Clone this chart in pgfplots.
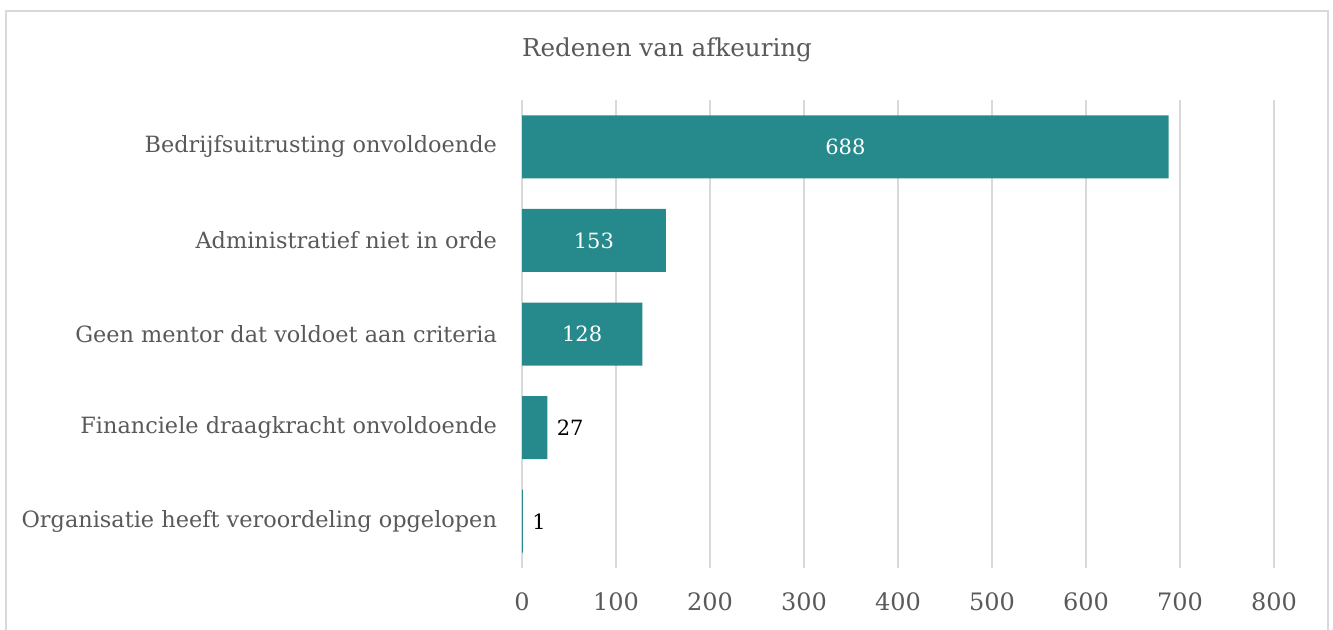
\documentclass[border=0pt]{standalone}
\usepackage{pgfplots}
\pgfplotsset{compat=1.18}
\usepackage{fontspec}
\setmainfont{DejaVu Serif}
\definecolor{barc}{HTML}{268A8C}
\definecolor{txt}{HTML}{595959}
\definecolor{gridc}{HTML}{D9D9D9}
\begin{document}
\begin{tikzpicture}
\useasboundingbox (0,0) rectangle (666.5pt,-315pt);
\draw[gridc, line width=1pt] (3pt,-315pt) -- (3pt,-5.5pt) -- (664pt,-5.5pt) -- (664pt,-315pt);
\node[txt, font=\fontsize{12.3}{14}\selectfont] at (333.5pt,-25pt) {Redenen van afkeuring};
\begin{axis}[
  at={(261pt,-284pt)}, anchor=south west,
  scale only axis, width=376pt, height=234pt,
  xbar, bar width=31.5pt,
  xmin=0, xmax=800, ymin=-0.5, ymax=4.5, y dir=reverse,
  xtick={0,100,...,800}, ytick={0,1,2,3,4},
  yticklabels={Bedrijfsuitrusting onvoldoende,Administratief niet in orde,Geen mentor dat voldoet aan criteria,Financiele draagkracht onvoldoende,Organisatie heeft veroordeling opgelopen},
  xmajorgrids, major grid style={gridc, line width=1pt},
  axis line style={draw=none}, major tick length=0pt,
  yticklabel style={txt, font=\fontsize{11.2}{13}\selectfont, xshift=-9pt},
  xticklabel style={txt, font=\fontsize{12}{14}\selectfont, yshift=-9pt},
  /pgf/number format/assume math mode=true,
  clip=false,
]
\addplot[fill=barc, draw=none, bar shift=0pt,
  visualization depends on={rawx \as \rawx},
  nodes near coords,
  every node near coord/.append style={anchor=center, xshift={-0.235pt*\rawx}, text=white, font=\fontsize{10.5}{12}\selectfont}]
  coordinates {(688,0) (153,1) (128,2)};
\addplot[fill=barc, draw=none, bar shift=0pt,
  nodes near coords,
  every node near coord/.append style={anchor=west, text=black, inner sep=4.5pt, font=\fontsize{10.5}{12}\selectfont}]
  coordinates {(27,3) (1,4)};
\end{axis}
\end{tikzpicture}
\end{document}
